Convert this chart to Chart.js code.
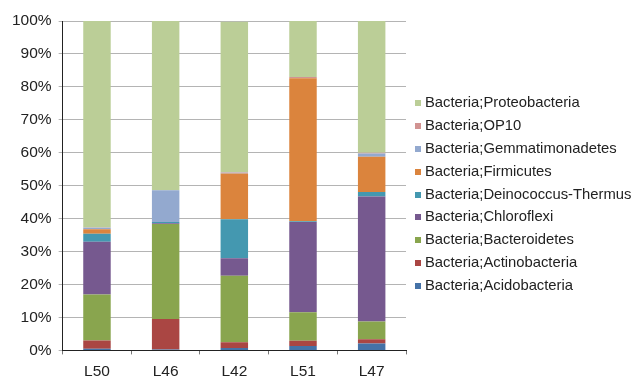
<!DOCTYPE html>
<html>
<head>
<meta charset="utf-8">
<script src="https://cdn.jsdelivr.net/npm/chart.js@4.4.1/dist/chart.umd.min.js"></script>
<style>
  body { margin: 0; background: #fff; }
  #wrap { position: relative; width: 642px; height: 381px; }
  #legend {
    position: absolute; left: 415px; top: 91px;
    font-family: 'Liberation Sans', Arial, sans-serif; font-size: 14.8px; color: #222;
  }
  .item { height: 22.9px; line-height: 22.9px; white-space: nowrap; }
  .box { display: inline-block; width: 6px; height: 6px; margin-right: 4px; vertical-align: 1px; }
</style>
</head>
<body>
<div id="wrap">
  <canvas id="chart" width="642" height="381"></canvas>
  <div id="legend"></div>
</div>
<script>
// Kategorier (prover)
const samples = ['L50', 'L46', 'L42', 'L51', 'L47'];

// Andel per fylum (%) i varje prov
const acidobacteria    = [0.5, 0.3, 0.7, 1.3, 2.1];
const actinobacteria   = [2.5, 9.2, 1.8, 1.6, 1.3];
const bacteroidetes    = [14.0, 28.9, 20.2, 8.7, 5.4];
const chloroflexi      = [16.0, 0.2, 5.3, 27.4, 37.9];
const deinococcus      = [2.4, 0.4, 11.8, 0.2, 1.4];
const firmicutes       = [1.4, 0.0, 13.9, 43.4, 10.7];
const gemmatimonadetes = [0.4, 9.6, 0.2, 0.0, 1.0];
const op10             = [0.1, 0.0, 0.2, 0.4, 0.2];
const proteobacteria   = [62.7, 51.4, 45.7, 17.0, 40.0];

// Y-axelns etiketter
const yTicks = [0, 10, 20, 30, 40, 50, 60, 70, 80, 90, 100];

const series = [
  { label: 'Bacteria;Acidobacteria', data: acidobacteria, color: '#4572A7' },
  { label: 'Bacteria;Actinobacteria', data: actinobacteria, color: '#AA4643' },
  { label: 'Bacteria;Bacteroidetes', data: bacteroidetes, color: '#89A54E' },
  { label: 'Bacteria;Chloroflexi', data: chloroflexi, color: '#76598F' },
  { label: 'Bacteria;Deinococcus-Thermus', data: deinococcus, color: '#4498B0' },
  { label: 'Bacteria;Firmicutes', data: firmicutes, color: '#DB843D' },
  { label: 'Bacteria;Gemmatimonadetes', data: gemmatimonadetes, color: '#93A9CF' },
  { label: 'Bacteria;OP10', data: op10, color: '#D19392' },
  { label: 'Bacteria;Proteobacteria', data: proteobacteria, color: '#BBCE97' }
];

const font = 'Liberation Sans, Arial, Helvetica, sans-serif';

const ctx = document.getElementById('chart').getContext('2d');
const chart = new Chart(ctx, {
  type: 'bar',
  data: {
    labels: samples,
    datasets: series.map(s => ({
      label: s.label,
      data: s.data,
      backgroundColor: s.color,
      borderWidth: 0,
      categoryPercentage: 1,
      barPercentage: 0.4
    }))
  },
  options: {
    responsive: false,
    animation: false,
    layout: { padding: { top: 21, right: 236, bottom: -8, left: 5 } },
    plugins: {
      tooltip: { enabled: false },
      legend: { display: false }
    },
    scales: {
      x: {
        stacked: true,
        offset: true,
        grid: {
          offset: true,
          drawOnChartArea: false,
          drawTicks: true,
          tickLength: 4,
          color: '#777'
        },
        border: { color: '#222', width: 1 },
        ticks: { color: '#222', font: { family: font, size: 15.5 }, padding: 8 }
      },
      y: {
        stacked: true,
        min: 0,
        max: 100,
        afterBuildTicks: axis => { axis.ticks = yTicks.map(v => ({ value: v })); },
        grid: { color: '#B4B4B4', lineWidth: 1, tickLength: 4 },
        border: { color: '#222', width: 1 },
        ticks: {
          color: '#222',
          font: { family: font, size: 15.5 },
          padding: 7,
          callback: v => v + '%'
        }
      }
    }
  }
});

// Egen legend (omvänd ordning, som i originalet)
const legendEl = document.getElementById('legend');
chart.data.datasets.slice().reverse().forEach(ds => {
  const item = document.createElement('div');
  item.className = 'item';
  const box = document.createElement('span');
  box.className = 'box';
  box.style.background = ds.backgroundColor;
  item.appendChild(box);
  item.appendChild(document.createTextNode(ds.label));
  legendEl.appendChild(item);
});
</script>
</body>
</html>
